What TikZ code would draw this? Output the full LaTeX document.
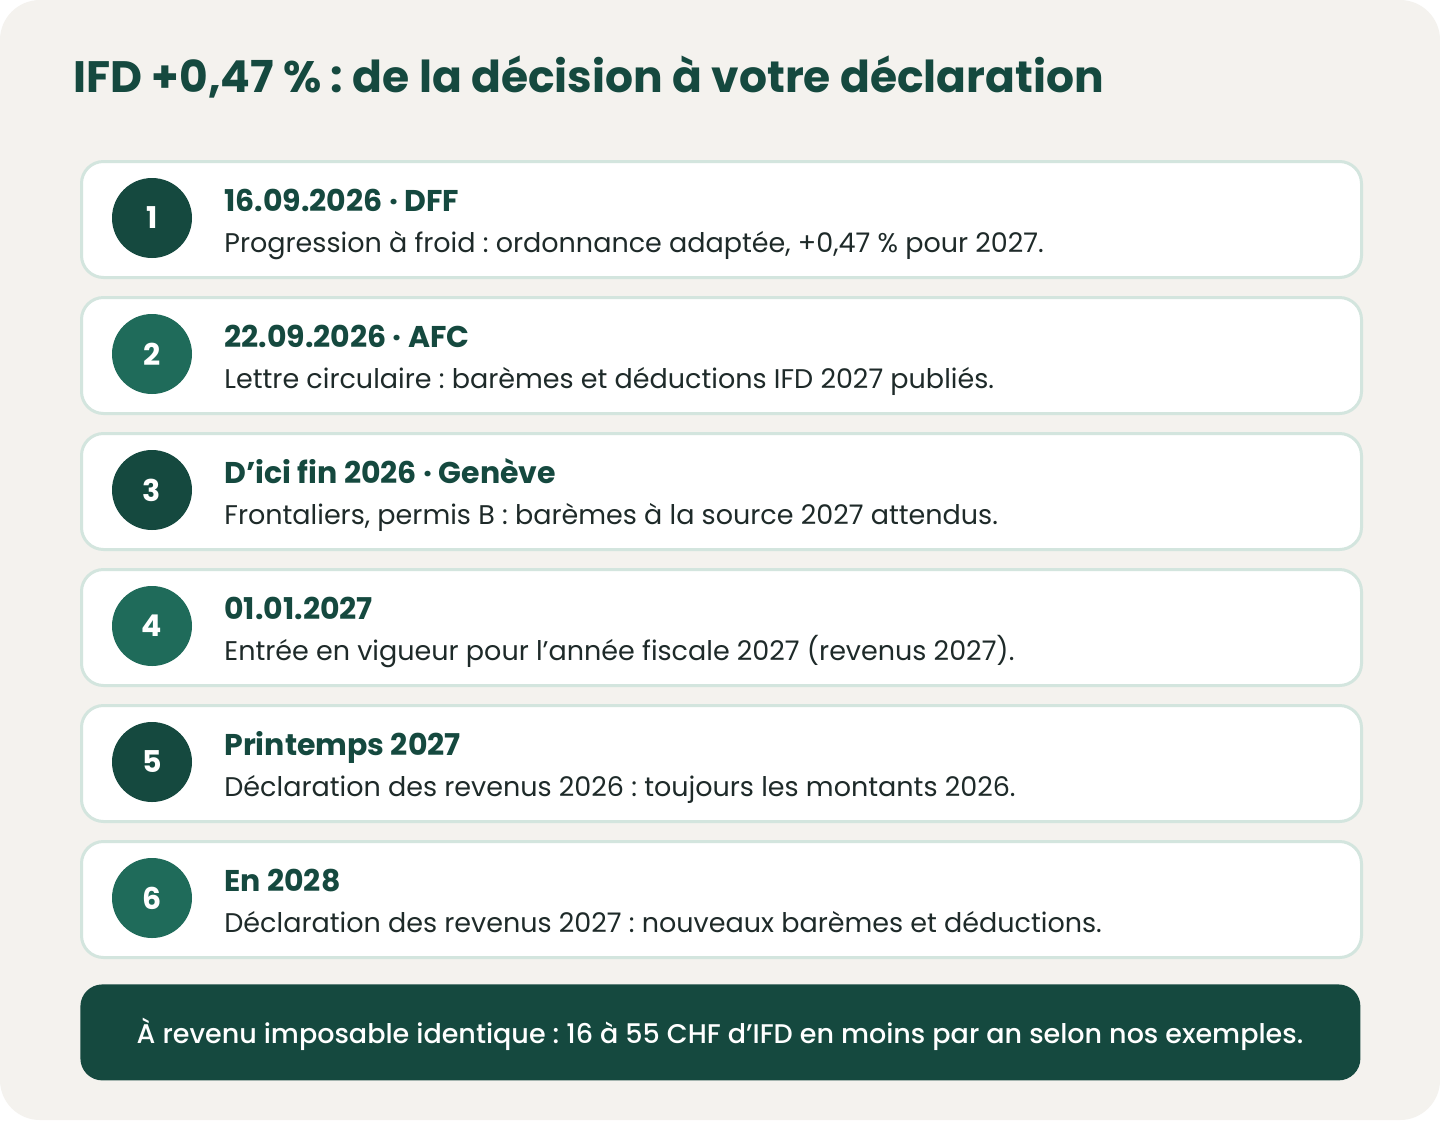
\documentclass[tikz,border=0pt]{standalone}
\usepackage{fontspec}
\setmainfont{Poppins}
\newfontfamily\mediumface{Poppins Medium}
\frenchspacing
\usetikzlibrary{positioning}
\definecolor{pagebg}{HTML}{F4F2EE}
\definecolor{deepgreen}{HTML}{15493F}
\definecolor{tealgreen}{HTML}{1F6B5A}
\definecolor{cardrule}{HTML}{D3E5DE}
\definecolor{bodyink}{HTML}{1E2A29}

\begin{document}
\begin{tikzpicture}[
	x=0.5pt, y=-0.5pt,
	card/.style={draw=cardrule, line width=1.5pt, fill=white, rounded corners=11pt,
		minimum width=640pt, minimum height=58pt, inner sep=0pt},
	badge/.style={circle, minimum size=40pt, inner sep=0pt, text=white,
		font=\fontsize{15}{18}\selectfont\bfseries},
	headline/.style={anchor=base west, inner sep=0pt, text=deepgreen,
		font=\fontsize{15}{18}\selectfont\bfseries},
	bodyline/.style={anchor=base west, inner sep=0pt, text=bodyink,
		font=\fontsize{13.5}{16}\selectfont}]
% page
\fill[white] (0,0) rectangle (1440,1120);
\fill[pagebg, rounded corners=20pt] (0,0) rectangle (1440,1120);
\useasboundingbox (0,0) rectangle (1440,1120);
\node[anchor=base west, inner sep=0pt, text=deepgreen,
	font=\fontsize{22}{27}\selectfont\bfseries] (title) at (73,92)
	{IFD +0,47 \% : de la décision à votre déclaration};
% steps
\foreach \i/\shade/\when/\what in {
	1/deepgreen/{16.09.2026 · DFF}/{Progression à froid : ordonnance adaptée, +0,47 \% pour 2027.},
	2/tealgreen/{22.09.2026 · AFC}/{Lettre circulaire : barèmes et déductions IFD 2027 publiés.},
	3/deepgreen/{D’ici fin 2026 · Genève}/{Frontaliers, permis B : barèmes à la source 2027 attendus.},
	4/tealgreen/{01.01.2027}/{Entrée en vigueur pour l’année fiscale 2027 (revenus 2027).},
	5/deepgreen/{Printemps 2027}/{Déclaration des revenus 2026 : toujours les montants 2026.},
	6/tealgreen/{En 2028}/{Déclaration des revenus 2027 : nouveaux barèmes et déductions.}}
{
	\pgfmathsetmacro{\top}{160+136*(\i-1)}
	\node[card, anchor=north west] (card\i) at (80,\top) {};
	\node[badge, fill=\shade] (num\i) at (152,\top+58) {\i};
	\node[headline] (when\i) at (224,\top+51) {\when};
	\node[bodyline] (what\i) at (224,\top+92) {\what};
}
% banner
\node[fill=deepgreen, rounded corners=11pt, minimum width=640pt, minimum height=48pt,
	inner sep=0pt, anchor=north west] (banner) at (80,984) {};
\node[text=white, inner sep=0pt, anchor=base, font=\fontsize{13.5}{16}\selectfont\mediumface]
	(note) at (720,1043)
	{À revenu imposable identique : 16 à 55 CHF d’IFD en moins par an selon nos exemples.};
\end{tikzpicture}
\end{document}
